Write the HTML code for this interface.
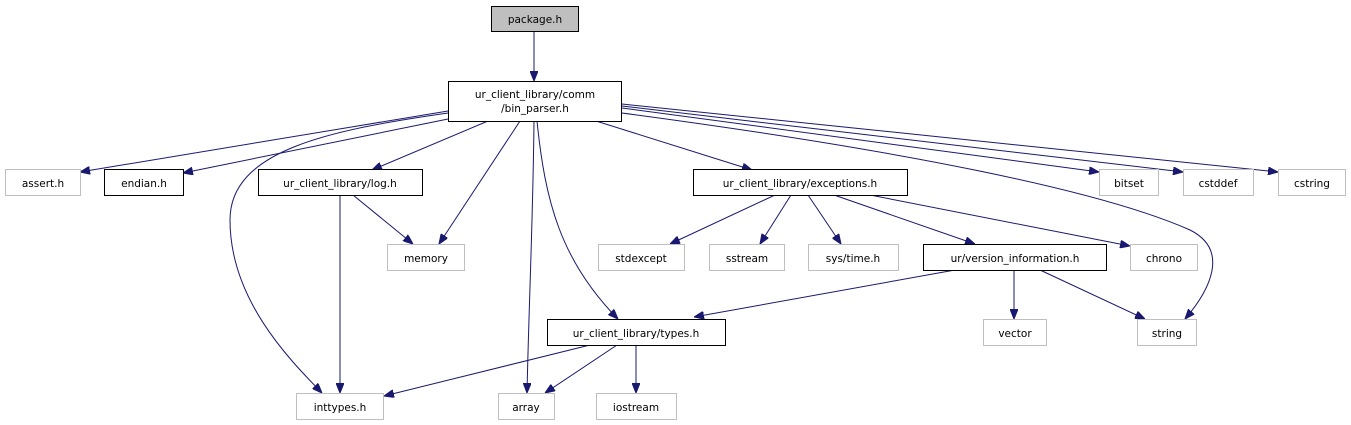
<!DOCTYPE html>
<html><head><meta charset="utf-8"><style>
html,body{margin:0;padding:0;background:#fff;}
svg{display:block;}
text{font-family:"DejaVu Sans","Liberation Sans",sans-serif;font-size:10.5px;fill:#000;text-anchor:middle;}
.b{fill:#fff;stroke:#000;stroke-width:1;}
.g{fill:#fff;stroke:#bfbfbf;stroke-width:1;}
.e{fill:none;stroke:#191970;stroke-width:1;marker-end:url(#a);}
</style></head><body>
<svg width="1351" height="425" viewBox="0 0 1351 425">
<defs><marker id="a" markerWidth="10" markerHeight="8" refX="10" refY="4" orient="auto" markerUnits="userSpaceOnUse"><path d="M0,0 L10,4 L0,8 z" fill="#191970" stroke="#191970"/></marker></defs>
<g>
<path class="e" d="M534,31 L534,81"/>
<path class="e" d="M448,111 L80,172"/>
<path class="e" d="M448,119 L183,173"/>
<path class="e" d="M448,113 C330,130 230,150 230,220 C230,300 290,360 322,393"/>
<path class="e" d="M488,121 L372,170"/>
<path class="e" d="M520,121 L439,244"/>
<path class="e" d="M534,121 C533,220 529,300 527,393"/>
<path class="e" d="M537,121 C545,200 560,260 618,319"/>
<path class="e" d="M596,121 L752,170"/>
<path class="e" d="M622,113 C900,150 1100,190 1190,230 C1230,250 1210,290 1185,319"/>
<path class="e" d="M622,108 L1099,172"/>
<path class="e" d="M622,106 L1183,172"/>
<path class="e" d="M622,104 L1278,172"/>
<path class="e" d="M340,195 L340,393"/>
<path class="e" d="M353,195 L413,244"/>
<path class="e" d="M775,195 L670,244"/>
<path class="e" d="M791,195 L760,244"/>
<path class="e" d="M808,195 L841,244"/>
<path class="e" d="M834,195 L975,244"/>
<path class="e" d="M870,195 L1130,246"/>
<path class="e" d="M955,270 L694,317"/>
<path class="e" d="M1014,270 L1014,319"/>
<path class="e" d="M1040,270 L1145,319"/>
<path class="e" d="M590,345 L384,396"/>
<path class="e" d="M617,345 L545,393"/>
<path class="e" d="M636,345 L636,393"/>
</g>
<rect x="491.5" y="6.5" width="87" height="25" fill="#bfbfbf" stroke="#000"/><text x="535" y="23">package.h</text>
<rect class="b" x="448.5" y="81.5" width="173" height="40"/><text x="535" y="98">ur_client_library/comm</text><text x="535" y="112">/bin_parser.h</text>
<rect class="g" x="5.5" y="169.5" width="75" height="26"/><text x="43" y="187">assert.h</text>
<rect class="b" x="104.5" y="169.5" width="79" height="26"/><text x="144" y="187">endian.h</text>
<rect class="b" x="258.5" y="169.5" width="164" height="26"/><text x="340" y="187">ur_client_library/log.h</text>
<rect class="b" x="693.5" y="169.5" width="214" height="26"/><text x="800" y="187">ur_client_library/exceptions.h</text>
<rect class="g" x="1099.5" y="169.5" width="59" height="26"/><text x="1129" y="187">bitset</text>
<rect class="g" x="1183.5" y="169.5" width="70" height="26"/><text x="1218" y="187">cstddef</text>
<rect class="g" x="1278.5" y="169.5" width="67" height="26"/><text x="1312" y="187">cstring</text>
<rect class="g" x="387.5" y="244.5" width="77" height="26"/><text x="426" y="262">memory</text>
<rect class="g" x="598.5" y="244.5" width="86" height="26"/><text x="641" y="262">stdexcept</text>
<rect class="g" x="709.5" y="244.5" width="75" height="26"/><text x="747" y="262">sstream</text>
<rect class="g" x="808.5" y="244.5" width="90" height="26"/><text x="853" y="262">sys/time.h</text>
<rect class="b" x="923.5" y="244.5" width="183" height="26"/><text x="1015" y="262">ur/version_information.h</text>
<rect class="g" x="1130.5" y="244.5" width="67" height="26"/><text x="1164" y="262">chrono</text>
<rect class="b" x="547.5" y="319.5" width="178" height="26"/><text x="636" y="337">ur_client_library/types.h</text>
<rect class="g" x="983.5" y="319.5" width="63" height="26"/><text x="1015" y="337">vector</text>
<rect class="g" x="1137.5" y="319.5" width="59" height="26"/><text x="1167" y="337">string</text>
<rect class="g" x="296.5" y="393.5" width="87" height="26"/><text x="340" y="411">inttypes.h</text>
<rect class="g" x="498.5" y="393.5" width="56" height="26"/><text x="526" y="411">array</text>
<rect class="g" x="596.5" y="393.5" width="80" height="26"/><text x="636" y="411">iostream</text>
</svg>
</body></html>
